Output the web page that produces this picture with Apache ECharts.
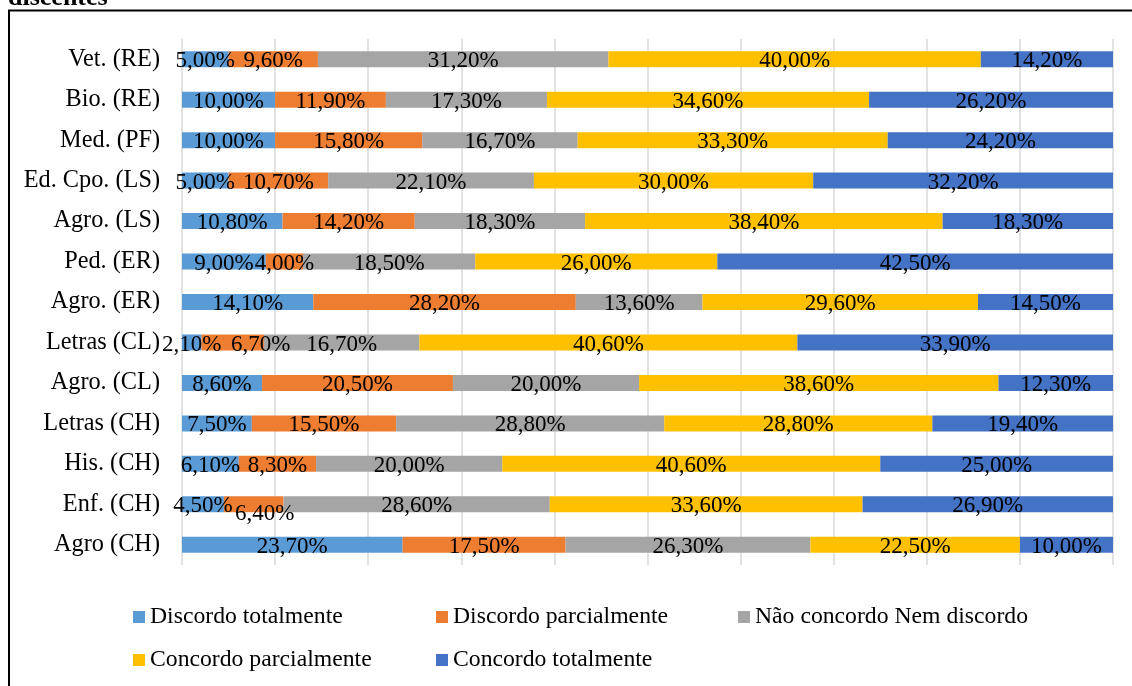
<!DOCTYPE html>
<html>
<head>
<meta charset="utf-8">
<script src="https://cdn.jsdelivr.net/npm/echarts@6/dist/echarts.min.js"></script>
<style>
  html, body { margin: 0; padding: 0; background: #fff; }
  #chart { width: 1132px; height: 686px; }
</style>
</head>
<body>
<div id="chart"></div>
<script>
// Courses, listed top to bottom
const categories = [
  'Vet. (RE)', 'Bio. (RE)', 'Med. (PF)', 'Ed. Cpo. (LS)', 'Agro. (LS)',
  'Ped. (ER)', 'Agro. (ER)', 'Letras (CL)', 'Agro. (CL)', 'Letras (CH)',
  'His. (CH)', 'Enf. (CH)', 'Agro (CH)'
];

const seriesNames = [
  'Discordo totalmente',
  'Discordo parcialmente',
  'Não concordo Nem discordo',
  'Concordo parcialmente',
  'Concordo totalmente'
];

// Percentages per answer, same order as categories
const discordoTotalmente     = [5.0, 10.0, 10.0, 5.0, 10.8, 9.0, 14.1, 2.1, 8.6, 7.5, 6.1, 4.5, 23.7];
const discordoParcialmente   = [9.6, 11.9, 15.8, 10.7, 14.2, 4.0, 28.2, 6.7, 20.5, 15.5, 8.3, 6.4, 17.5];
const naoConcordoNemDiscordo = [31.2, 17.3, 16.7, 22.1, 18.3, 18.5, 13.6, 16.7, 20.0, 28.8, 20.0, 28.6, 26.3];
const concordoParcialmente   = [40.0, 34.6, 33.3, 30.0, 38.4, 26.0, 29.6, 40.6, 38.6, 28.8, 40.6, 33.6, 22.5];
const concordoTotalmente     = [14.2, 26.2, 24.2, 32.2, 18.3, 42.5, 14.5, 33.9, 12.3, 19.4, 25.0, 26.9, 10.0];

const seriesValues = [
  discordoTotalmente,
  discordoParcialmente,
  naoConcordoNemDiscordo,
  concordoParcialmente,
  concordoTotalmente
];

const colors = ['#5B9BD5', '#ED7D31', '#A5A5A5', '#FFC000', '#4472C4'];
const FONT = '"Liberation Serif", "Times New Roman", serif';

const fmt = v => v.toFixed(2).replace('.', ',') + '%';

// labels moved aside where neighbouring segments are too narrow
const labelNudges = {
  'Letras (CL)|Discordo parcialmente': [28, 2],
  'Enf. (CH)|Discordo parcialmente': [11, 10]
};

const series = seriesValues.map((values, i) => ({
  name: seriesNames[i],
  type: 'bar',
  stack: 'total',
  barWidth: 16,
  itemStyle: { color: colors[i] },
  label: {
    show: true,
    position: 'inside',
    offset: [0, 2],
    color: '#000',
    fontFamily: FONT,
    fontSize: 23,
    textBorderWidth: 0,
    formatter: p => fmt(p.value)
  },
  emphasis: { disabled: true },
  data: values.map((v, j) => {
    const nudge = labelNudges[categories[j] + '|' + seriesNames[i]];
    return nudge ? { value: v, label: { offset: nudge } } : v;
  })
}));

// Legend: two rows, three fixed columns
const legendPos = [
  { left: 133, top: 605 },
  { left: 436, top: 605 },
  { left: 738, top: 605 },
  { left: 133, top: 648 },
  { left: 436, top: 648 }
];
const legends = seriesNames.map((n, i) => ({
  data: [n],
  left: legendPos[i].left,
  top: legendPos[i].top,
  padding: 0,
  icon: 'rect',
  itemWidth: 12,
  itemHeight: 12,
  selectedMode: false,
  textStyle: { color: '#000', fontFamily: FONT, fontSize: 23.7 }
}));

const chart = echarts.init(document.getElementById('chart'), null, { renderer: 'canvas' });
chart.setOption({
  animation: false,
  backgroundColor: '#fff',
  color: colors,
  graphic: [
    {
      type: 'text',
      x: 8,
      y: 11,
      style: {
        text: 'discentes',
        fill: '#000',
        verticalAlign: 'bottom',
        font: 'bold 26px "Liberation Serif", "Times New Roman", serif'
      }
    },
    {
      type: 'polyline',
      shape: { points: [[9, 700], [9, 10.5], [1140, 10.5]] },
      style: { stroke: '#000', lineWidth: 2, fill: null }
    }
  ],
  legend: legends,
  grid: { left: 182, right: 19, top: 39, height: 526, containLabel: false },
  xAxis: {
    type: 'value',
    min: 0,
    max: 100,
    interval: 10,
    axisLabel: { show: false },
    axisLine: { show: false },
    axisTick: { show: false },
    splitLine: { show: true, lineStyle: { color: '#D9D9D9', width: 1.5 } }
  },
  yAxis: {
    type: 'category',
    inverse: true,
    data: categories,
    axisLine: { show: false },
    axisTick: { show: false },
    axisLabel: { color: '#000', fontFamily: FONT, fontSize: 24.3, margin: 22 }
  },
  series
});
</script>
</body>
</html>
